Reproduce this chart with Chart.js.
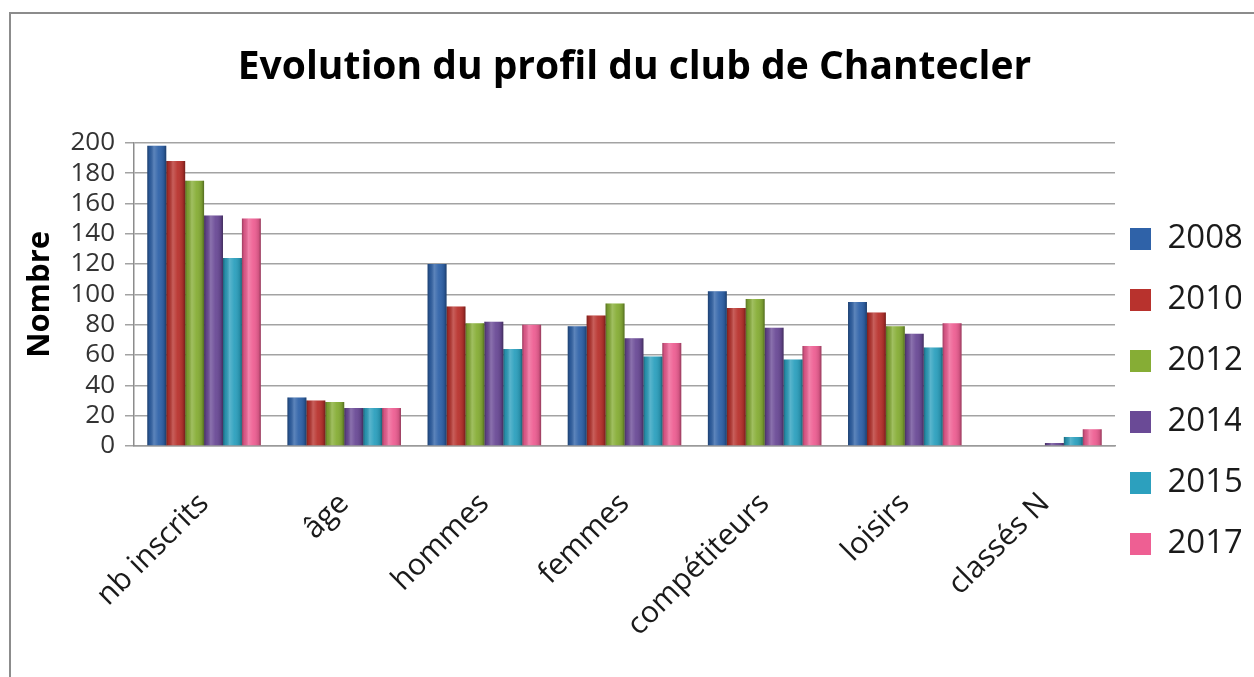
<!DOCTYPE html>
<html>
<head>
<meta charset="utf-8">
<script src="https://cdn.jsdelivr.net/npm/chart.js@4/dist/chart.umd.min.js"></script>
<style>
  html, body { margin: 0; padding: 0; background: #ffffff; }
  #wrap { position: relative; width: 1254px; height: 677px; overflow: hidden; }
  #frame { position: absolute; left: 9px; top: 12px; width: 1300px; height: 700px;
           border-left: 2px solid #8c8c8c; border-top: 2px solid #8c8c8c; pointer-events: none; }
  canvas { position: absolute; left: 0; top: 0; }
</style>
</head>
<body>
<div id="wrap">
  <canvas id="c" width="1254" height="677"></canvas>
  <div id="frame"></div>
</div>
<script>
const chartTitle = 'Evolution du profil du club de Chantecler';
const yAxisTitle = 'Nombre';
const categories = ['nb inscrits', 'âge', 'hommes', 'femmes', 'compétiteurs', 'loisirs', 'classés N'];
const years = ['2008', '2010', '2012', '2014', '2015', '2017'];
const v2008 = [198, 32, 120, 79, 102, 95, 0];
const v2010 = [188, 30, 92, 86, 91, 88, 0];
const v2012 = [175, 29, 81, 94, 97, 79, 0];
const v2014 = [152, 25, 82, 71, 78, 74, 2];
const v2015 = [124, 25, 64, 59, 57, 65, 6];
const v2017 = [150, 25, 80, 68, 66, 81, 11];
const yMin = 0, yMax = 200, yStep = 20;

const seriesValues = [v2008, v2010, v2012, v2014, v2015, v2017];
const seriesColors = ['#2F62A8', '#B8322D', '#86AD35', '#6A4A96', '#2CA0BE', '#EE5F93'];

Chart.defaults.font.family = "'Open Sans', 'DejaVu Sans', sans-serif";
Chart.defaults.color = '#333333';

const shadePlugin = {
  id: 'shade',
  afterDatasetsDraw(chart) {
    const ctx = chart.ctx;
    chart.data.datasets.forEach((ds, di) => {
      const meta = chart.getDatasetMeta(di);
      meta.data.forEach(el => {
        const p = el.getProps(['x', 'y', 'base', 'width'], true);
        const h = p.base - p.y;
        if (h < 0.5) return;
        const l = p.x - p.width / 2, r = p.x + p.width / 2;
        const g = ctx.createLinearGradient(l, 0, r, 0);
        g.addColorStop(0, 'rgba(0,0,0,0.35)');
        g.addColorStop(0.12, 'rgba(0,0,0,0.10)');
        g.addColorStop(0.35, 'rgba(255,255,255,0.22)');
        g.addColorStop(0.6, 'rgba(255,255,255,0.05)');
        g.addColorStop(0.88, 'rgba(0,0,0,0.12)');
        g.addColorStop(1, 'rgba(0,0,0,0.38)');
        ctx.save();
        ctx.fillStyle = g;
        ctx.fillRect(l, p.y, p.width, h);
        ctx.restore();
      });
    });
  }
};

const legendShift = {
  id: 'legendShift',
  afterLayout(chart) {
    const lg = chart.legend;
    if (!lg) return;
    lg.left -= 13; lg.right -= 13;
    lg.top += 53; lg.bottom += 53;
  }
};

new Chart(document.getElementById('c'), {
  type: 'bar',
  data: {
    labels: categories,
    datasets: years.map((y, i) => ({
      label: y,
      data: seriesValues[i],
      backgroundColor: seriesColors[i],
      borderWidth: 0,
      categoryPercentage: 0.81,
      barPercentage: 1.0
    }))
  },
  options: {
    responsive: false,
    animation: false,
    devicePixelRatio: 1,
    layout: { padding: { left: 15, right: 0, top: 0, bottom: 0 } },
    plugins: {
      title: {
        display: true,
        text: chartTitle,
        color: '#000000',
        font: { size: 39, weight: 'bold' },
        padding: { top: 44, bottom: 52 }
      },
      legend: {
        position: 'right',
        maxWidth: 139,
        labels: {
          color: '#1a1a1a',
          font: { size: 33 },
          boxWidth: 21,
          boxHeight: 22,
          padding: 28
        }
      },
      tooltip: { enabled: false }
    },
    scales: {
      x: {
        grid: { display: false, drawTicks: false },
        border: { display: true, color: '#9a9a9a', width: 1.5 },
        ticks: { color: '#1a1a1a', font: { size: 30 }, minRotation: 45, maxRotation: 45, padding: 40, autoSkip: false },
        afterFit(scale) { scale.height = 231; }
      },
      y: {
        min: yMin, max: yMax,
        ticks: { stepSize: yStep, color: '#333333', font: { size: 26 }, padding: 10, autoSkip: false },
        grid: { color: '#a3a3a3', lineWidth: 1.5, tickLength: 9, drawTicks: true },
        border: { display: true, color: '#8c8c8c', width: 1.5 },
        title: { display: true, text: yAxisTitle, color: '#000000', font: { size: 31, weight: 'bold' }, padding: { top: 7, bottom: 0 } },
        afterFit(scale) { scale.width = 119; }
      }
    }
  },
  plugins: [shadePlugin, legendShift]
});
</script>
</body>
</html>
